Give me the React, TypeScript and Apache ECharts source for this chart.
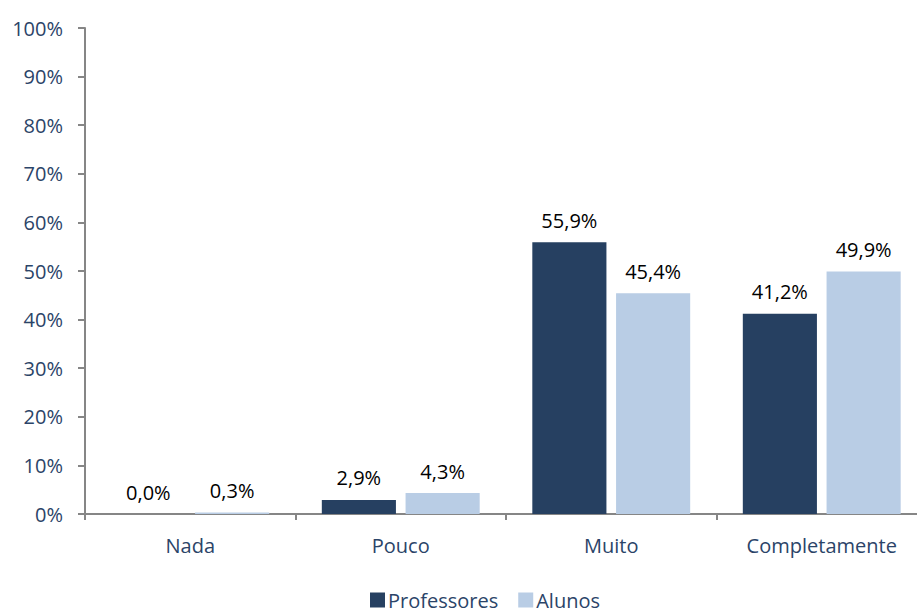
import React, { useEffect, useRef } from "react";
import * as echarts from "echarts";

const categories = ["Nada", "Pouco", "Muito", "Completamente"];
const professores = [0.0, 2.9, 55.9, 41.2];
const alunos = [0.3, 4.3, 45.4, 49.9];
const seriesNames = ["Professores", "Alunos"];
const yTicks = [0, 10, 20, 30, 40, 50, 60, 70, 80, 90, 100];

export default function App() {
  const ref = useRef<HTMLDivElement>(null);
  useEffect(() => {
    if (!ref.current) return;
    const chart = echarts.init(ref.current, undefined, { renderer: "svg" });
    const font = "'Open Sans', sans-serif";
    const axisColor = "#2B4468";
    const fmt = (v: number) => v.toFixed(1).replace(".", ",") + "%";
    const label = {
      show: true,
      position: "top" as const,
      distance: 12,
      color: "#000",
      fontSize: 20,
      fontFamily: font,
      formatter: (p: any) => fmt(p.value),
    };
    chart.setOption({
      animation: false,
      textStyle: { fontFamily: font },
      grid: {
        left: 85,
        top: 28,
        width: 842,
        height: 486,
        containLabel: false,
        outerBoundsMode: "none",
      },
      legend: {
        bottom: 2,
        left: 370,
        padding: 0,
        itemWidth: 15,
        itemHeight: 15,
        itemGap: 20,
        icon: "rect",
        textStyle: {
          fontSize: 20,
          lineHeight: 22,
          color: axisColor,
          fontFamily: font,
          padding: [0, 0, 0, -2],
        },
        data: seriesNames,
      },
      xAxis: {
        type: "category",
        data: categories,
        axisLine: { lineStyle: { color: "#868686", width: 2 } },
        axisTick: { show: true, length: 6, lineStyle: { color: "#868686", width: 2 } },
        axisLabel: { color: axisColor, fontSize: 20, margin: 21, fontFamily: font },
      },
      yAxis: {
        type: "value",
        min: 0,
        max: 100,
        interval: 10,
        splitLine: { show: false },
        axisLine: { show: true, lineStyle: { color: "#868686", width: 2 } },
        axisTick: { show: true, length: 7, lineStyle: { color: "#868686", width: 2 } },
        axisLabel: {
          color: axisColor,
          fontSize: 20,
          margin: 22,
          fontFamily: font,
          formatter: (v: number) => (yTicks.includes(v) ? v + "%" : ""),
        },
      },
      series: [
        {
          name: seriesNames[0],
          type: "bar",
          data: professores,
          itemStyle: { color: "#264061" },
          barGap: "13%",
          barCategoryGap: "25%",
          label,
        },
        {
          name: seriesNames[1],
          type: "bar",
          data: alunos,
          itemStyle: { color: "#B9CDE5" },
          label,
        },
      ],
    });
    return () => chart.dispose();
  }, []);
  return <div ref={ref} style={{ width: 917, height: 613, position: "absolute", left: 0, top: 0 }} />;
}
